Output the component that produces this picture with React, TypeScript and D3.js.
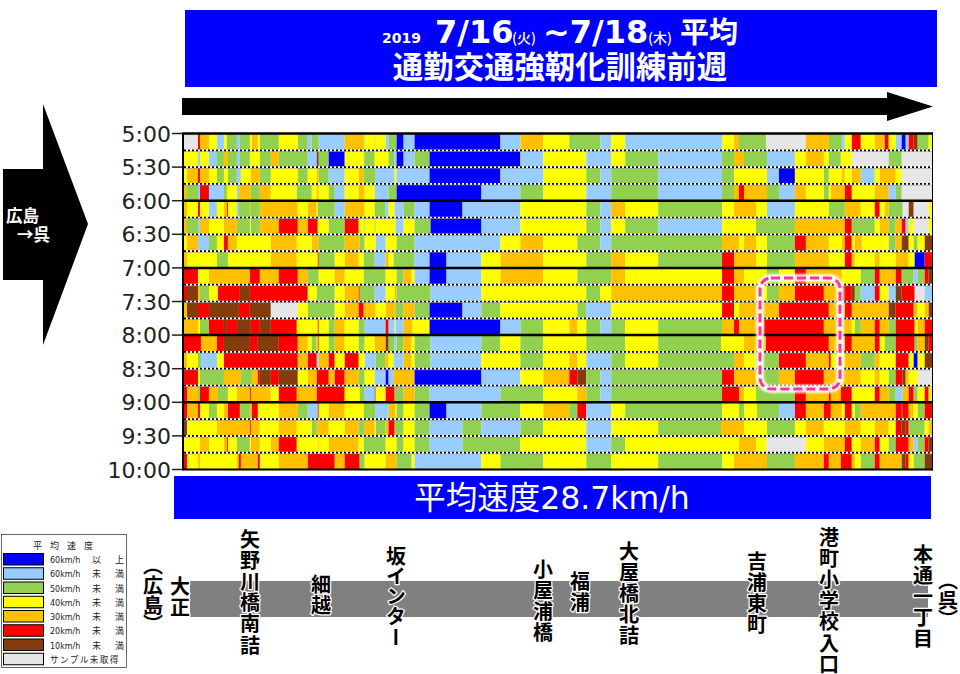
import React from "react";
import * as d3 from "d3";

const CJK = '"Noto Sans CJK JP", sans-serif';
const LATIN = '"DejaVu Sans", "Noto Sans CJK JP", sans-serif';

const palette: Record<string, string> = {
  b: "#0000ff", l: "#99ccff", g: "#92d050", y: "#ffff00",
  o: "#ffc000", r: "#ff0000", n: "#843c0c", w: "#e6e6e6",
};

const legendCodes = ["b", "l", "g", "y", "o", "r", "n", "w"];
const legendSpeeds = ["60km/h", "60km/h", "50km/h", "40km/h", "30km/h", "20km/h", "10km/h", ""];
const legendSuffix = ["以　上", "未　満", "未　満", "未　満", "未　満", "未　満", "未　満", ""];

const timeLabels = ["5:00", "5:30", "6:00", "6:30", "7:00", "7:30", "8:00", "8:30", "9:00", "9:30", "10:00"];
const timeMinutes = [300, 330, 360, 390, 420, 450, 480, 510, 540, 570, 600];

// Road position domain, each row: speed class + end position of the stretch
const roadStart = 42;
const roadEnd = 2290;
const rows: string[] = [
  "w84 r90 o117 y141 l162 y171 g201 l210 g240 y246 o264 y270 g327 y384 g414 l426 g447 l525 o582 g585 y615 o618 y648 l657 g681 b702 l735 b993 l1053 o1122 y1200 g1293 l1326 y1368 l1659 y1695 o1710 g1791 w1911 o1980 g2019 l2028 y2049 r2076 y2118 o2148 r2160 y2181 l2199 b2211 l2220 r2235 n2247 g2280 y2290",
  "y84 l90 y117 l141 g162 o174 g201 l210 g240 y270 g303 o327 g414 l441 n447 g477 b525 y582 g585 g615 y657 g675 l681 b702 l735 g780 b1053 l1122 y1251 l1326 y1368 g1467 l1659 g1695 o1725 g1794 l1878 y1911 o1965 y1980 g2016 y2049 w2160 g2199 w2290",
  "y51 o84 r90 o117 y141 g162 y174 g201 l213 y243 o270 g303 y384 g414 y441 o447 g477 l525 y567 o582 g618 l675 y681 l780 b993 l1122 y1251 g1293 l1326 g1467 l1659 g1695 y1794 l1830 b1878 y1965 g1980 y2019 o2028 y2049 o2076 l2118 y2133 o2181 y2199 w2290",
  "o51 g84 l90 r117 l162 g171 y201 l207 o243 g270 o303 y381 g426 y441 o447 y477 g495 l525 y567 o585 y615 l657 g681 b936 l1053 g1122 y1251 l1326 g1467 l1659 g1695 o1710 r1725 o1794 g1830 l1878 o1911 y1965 g1980 y1986 o2028 r2049 y2118 o2160 l2181 g2199 w2290",
  "o51 y84 r90 y117 l141 y162 o171 r174 y201 l207 g240 o243 g270 o384 y414 o441 y444 g495 l525 o585 y615 g648 l657 y675 l702 g735 l780 b879 l1053 y1251 g1293 l1326 o1368 y1467 g1659 y1695 o1761 y1794 l1878 y1980 g2028 o2076 y2118 r2133 y2148 o2160 g2202 w2220 n2235 w2280 y2290",
  "o51 g84 l90 o117 y162 o201 g240 y243 g270 o327 r384 o414 r444 y477 g525 r567 y582 g585 y615 g618 y678 l702 y735 g783 b936 l1053 y1251 g1293 l1326 y1368 g1467 l1659 y1761 g1878 o2028 r2049 g2118 y2133 o2160 g2181 o2199 r2211 l2220 y2235 w2280 y2290",
  "y51 o84 l117 g141 y162 r174 o201 y303 o381 y426 o447 g525 o570 g585 y618 l648 y681 g735 l993 y1053 o1122 y1224 g1293 l1326 g1659 o1710 y1725 o1761 y1794 g1878 r1911 o1980 y2019 o2028 r2049 y2058 o2079 y2160 g2181 o2199 n2220 y2235 g2247 y2268 n2290",
  "o51 y141 g174 y303 o381 y444 r447 g495 y525 o567 y582 g615 l648 o657 y672 g735 l780 b831 l936 y993 o1122 y1251 g1326 o1368 y1467 g1659 r1695 o1761 y1794 g1878 o1980 y2028 r2049 o2058 y2118 o2133 y2181 o2220 y2238 b2268 r2290",
  "r84 y117 o240 r270 o327 r384 o414 g447 y495 o525 y582 g648 y681 g702 o726 y735 l780 b831 l936 y993 o1122 y1224 g1326 o1368 y1659 r1695 o1725 y1794 g1830 y1878 r1911 o2019 y2076 g2118 r2133 o2181 r2199 g2235 l2247 g2268 r2280 n2290",
  "r51 n84 o90 g117 y144 r210 n240 r414 y441 g495 y525 o567 r570 g615 l648 y675 o681 g783 l936 y1251 g1293 y1326 o1659 r1695 o1761 y1794 g1830 o1878 r1965 o2019 r2049 n2058 g2076 l2118 r2133 y2160 l2181 n2199 r2238 w2268 l2290",
  "o51 n84 r117 n207 r240 n303 w384 y414 g495 y525 o567 r582 o618 y648 o678 g702 o735 g780 b879 l936 g993 y1224 g1251 l1326 y1659 r1695 y1710 o1830 r1980 o2028 r2049 o2160 n2181 r2235 o2247 y2268 o2280 n2290",
  "o84 y90 g117 r162 n171 r201 n243 r270 n303 r381 y444 r447 y477 g495 o525 y567 g585 l648 r657 l675 y678 l702 o729 y780 b993 l1053 g1122 y1200 o1224 y1251 g1293 l1326 g1368 y1467 g1659 o1695 r1710 o1785 r1965 o2049 y2058 g2076 o2118 r2133 o2160 g2181 r2238 y2247 o2268 r2290",
  "r93 o141 r162 n240 r264 n327 r384 o414 y426 g441 y444 r447 y477 g495 o525 y567 g585 y615 o648 n657 g675 l681 g702 o726 y735 g783 l936 g993 y1053 g1122 y1251 g1368 y1467 g1656 y1725 o1791 r1980 o2028 r2049 o2118 r2133 y2148 g2181 r2238 g2247 o2268 n2280 r2290",
  "o51 y84 g93 l141 y162 r384 o414 r441 l447 o477 r495 y525 r567 y585 l618 g648 o657 y672 l702 o726 y735 g783 l936 y1053 g1122 y1200 o1224 y1251 l1326 g1368 y1467 g1695 o1725 y1761 g1830 r1911 o1980 r1986 y2028 o2076 g2118 o2133 y2181 r2220 y2235 b2247 y2268 n2290",
  "r84 y90 g162 o213 g246 o264 r270 n303 r327 n384 y414 o441 r477 o495 r525 o567 g585 y615 l648 b657 l672 o735 b936 l1053 y1122 o1200 r1224 n1251 g1293 l1326 g1659 r1695 o1761 y1770 g1830 o1878 r1965 o2076 y2118 o2133 y2160 g2181 r2202 n2211 o2220 y2247 w2290",
  "r51 o84 g90 r117 o144 g174 y201 o240 r243 o303 y327 r381 o441 r525 y570 g585 l615 n618 y648 r675 g702 o735 g780 l993 g1122 y1224 o1251 g1293 l1326 g1659 r1710 o1725 y1761 g1878 r1911 o1980 r1986 o2016 r2049 y2118 r2133 o2160 g2181 l2202 o2220 r2235 g2247 y2268 r2280 y2290",
  "r51 o84 r90 y117 g141 y162 o174 r210 g240 o246 r264 y327 o384 g414 l444 r447 y477 o525 y582 g618 l657 o678 y681 g702 y735 g780 b831 l936 g1053 y1122 o1200 g1224 r1251 l1326 y1368 g1659 y1710 g1725 y1764 g1830 l1878 r1911 o1965 r1986 o2019 y2028 r2049 y2058 g2076 o2181 r2199 n2202 r2220 o2235 y2247 g2268 r2290",
  "n51 y141 o240 r243 o270 y327 o381 y426 g441 o477 y525 o567 g585 o615 y618 g648 o657 r675 g702 y735 g780 l879 g936 l1053 g1122 y1251 l1326 y1467 g1656 o1725 y1794 g1878 y1911 o1965 y2028 o2076 y2118 o2160 y2181 r2199 n2211 r2220 g2268 y2280 o2290",
  "y90 o117 y162 o171 r174 y201 g240 y243 o270 y303 o327 r381 y444 o447 y477 o567 y582 g648 y681 g702 y735 g780 l879 g1053 y1251 l1326 g1368 y1710 o1761 y1791 w1911 y1965 o2028 r2049 y2076 o2118 r2133 y2160 g2181 r2220 o2235 l2247 g2268 r2280 n2290",
  "r51 y84 o90 y201 o207 r213 o264 r270 y327 o414 r495 o525 r570 g585 y648 o681 g726 y735 l936 y993 g1122 y1251 g1326 y1467 g1659 y1695 o1794 g1878 o1965 r1980 o2016 r2049 o2058 y2076 g2118 r2133 o2199 n2211 r2220 y2235 g2268 n2290",
];

const stationNames = ["（広島）", "大正", "矢野川橋南詰", "細越", "坂インター", "小屋浦橋", "福浦", "大屋橋北詰", "吉浦東町", "港町小学校入口", "本通一丁目", "（呉）"];
const stationX = [153, 180, 250, 321, 396, 543, 580, 629, 757, 829, 923, 948];
const stationTop = [565, 576, 529, 574, 546, 559, 571, 541, 551, 527, 544, 580];

const titleParts = ["2019", "7/16", "(火)", "~7/18", "(木)", "平均"];
const titleX = [382, 435, 512, 543, 648, 680];
const titleSize = [14, 32, 14, 32, 14, 29];
const titleFont = [LATIN, LATIN, CJK, LATIN, CJK, CJK];

const W = 960, H = 674;
const x = d3.scaleLinear().domain([roadStart, roadEnd]).range([184, 932]);
const y = d3.scaleLinear().domain([300, 600]).range([133.5, 469.5]);
const rowStep = 15;

function parseRow(s: string) {
  let prev = roadStart;
  return s.split(" ").map((tok) => {
    const seg = { code: tok[0], x0: prev, x1: +tok.slice(1) };
    prev = seg.x1;
    return seg;
  });
}

const halo = { paintOrder: "stroke" as const, stroke: "#fff", strokeWidth: 2.5, strokeLinejoin: "round" as const };

export default function App() {
  const quarter = d3.range(300, 600, rowStep);
  return (
    <svg width={W} height={H} viewBox={`0 0 ${W} ${H}`} style={{ position: "absolute", left: 0, top: 0, background: "#fff" }}>
      <defs>
        <filter id="glow" x="-10%" y="-10%" width="120%" height="120%">
          <feGaussianBlur stdDeviation="1" />
        </filter>
      </defs>
      {/* title */}
      <rect x={185} y={10} width={752} height={77} fill="#0000ff" />
      {titleParts.map((t, i) => (
        <text key={t} x={titleX[i]} y={43} fill="#fff" fontFamily={titleFont[i]} fontWeight={titleSize[i] === 14 && i > 0 ? 500 : 700} fontSize={titleSize[i]}>{t}</text>
      ))}
      <text x={560} y={78} textAnchor="middle" fill="#fff" fontFamily={CJK} fontWeight={700} fontSize={30.4}>通勤交通強靭化訓練前週</text>

      {/* direction arrow */}
      <polygon points="182,98 887,98 887,92 933,106.5 887,121 887,115 182,115" fill="#000" />

      {/* left arrow */}
      <polygon points="3,169 43,169 43,104 88,224 43,345 43,280 3,280" fill="#000" />
      <text x={6} y={222} fill="#fff" fontFamily={CJK} fontWeight={700} fontSize={16.5}>広島</text>
      <text x={17} y={241} fill="#fff" fontFamily={CJK} fontWeight={700} fontSize={16.5}>→呉</text>

      {/* heat rows */}
      {rows.map((r, i) =>
        parseRow(r).map((s, j) => (
          <rect key={`${i}-${j}`} x={x(s.x0)} width={x(s.x1) - x(s.x0)} y={y(quarter[i])} height={y(quarter[i] + rowStep) - y(quarter[i])} fill={palette[s.code]} />
        ))
      )}
      {quarter.filter((m) => m % 60 !== 0).map((m) => (
        <g key={m}>
          <line x1={184} x2={932} y1={y(m) + 1} y2={y(m) + 1} stroke="#888" strokeWidth={0.8} />
          <line x1={184} x2={932} y1={y(m)} y2={y(m)} stroke="#fff" strokeWidth={1.7} />
          <line x1={184} x2={932} y1={y(m)} y2={y(m)} stroke="#000" strokeWidth={1.7} strokeDasharray="2 2" />
        </g>
      ))}
      {timeMinutes.filter((m) => m % 60 === 0).map((m) => (
        <line key={m} x1={183} x2={933} y1={y(m)} y2={y(m)} stroke="#000" strokeWidth={m === 600 ? 2 : 2.5} />
      ))}
      <line x1={183} x2={183} y1={132.5} y2={470.5} stroke="#000" strokeWidth={2} />
      <line x1={932.5} x2={932.5} y1={132.5} y2={470.5} stroke="#000" strokeWidth={1} />

      {/* time axis */}
      {timeMinutes.map((m, i) => (
        <g key={m}>
          <line x1={172} x2={182} y1={y(m)} y2={y(m)} stroke="#222" strokeWidth={1.5} />
          <text x={171} y={y(m) + 8} textAnchor="end" fontFamily={LATIN} fontSize={22} fill="#222">{timeLabels[i]}</text>
        </g>
      ))}

      {/* highlight */}
      <rect x={760} y={278} width={80} height={111} rx={11} fill="none" stroke="#fff" strokeWidth={8} opacity={0.9} filter="url(#glow)" />
      <rect x={760} y={278} width={80} height={111} rx={11} fill="none" stroke="#ff3399" strokeWidth={3} strokeDasharray="9 4" />

      {/* average speed */}
      <rect x={174} y={476} width={757} height={43} fill="#0000ff" />
      <text x={552} y={509} textAnchor="middle" fill="#fff" fontFamily={LATIN} fontSize={31.5}>平均速度28.7km/h</text>

      {/* legend */}
      <rect x={1.5} y={534.5} width={125} height={133} fill="#fff" stroke="#000" strokeWidth={0.6} />
      <text x={33} y={549} fontFamily={CJK} fontSize={9} fill="#222" letterSpacing={8}>平均速度</text>
      {legendCodes.map((c, i) => {
        const ly = 553.5 + i * 14.25;
        return (
          <g key={c}>
            <rect x={3.5} y={ly} width={40} height={11.5} fill={palette[c]} stroke="#000" strokeWidth={1} />
            {i < 7 ? (
              <>
                <text x={50} y={ly + 9.5} fontFamily={LATIN} fontSize={8} fill="#222">{legendSpeeds[i]}</text>
                <text x={92} y={ly + 9.5} fontFamily={CJK} fontSize={9} fill="#222" letterSpacing={2.5}>{legendSuffix[i]}</text>
              </>
            ) : (
              <text x={50} y={ly + 9.5} fontFamily={CJK} fontSize={8.6} fill="#222" letterSpacing={1.4}>サンプル未取得</text>
            )}
          </g>
        );
      })}

      {/* road */}
      <rect x={190} y={581} width={738} height={36} fill="#808080" />
      {stationNames.map((name, i) => (
        <text key={name} x={stationX[i]} y={stationTop[i]} fontFamily={CJK} fontWeight={700} fontSize={20} fill="#000" letterSpacing={name.startsWith("（") ? 0 : 1.2}
          style={{ writingMode: "vertical-rl", fontFeatureSettings: '"vpal"', ...halo }}>{name}</text>
      ))}
    </svg>
  );
}
